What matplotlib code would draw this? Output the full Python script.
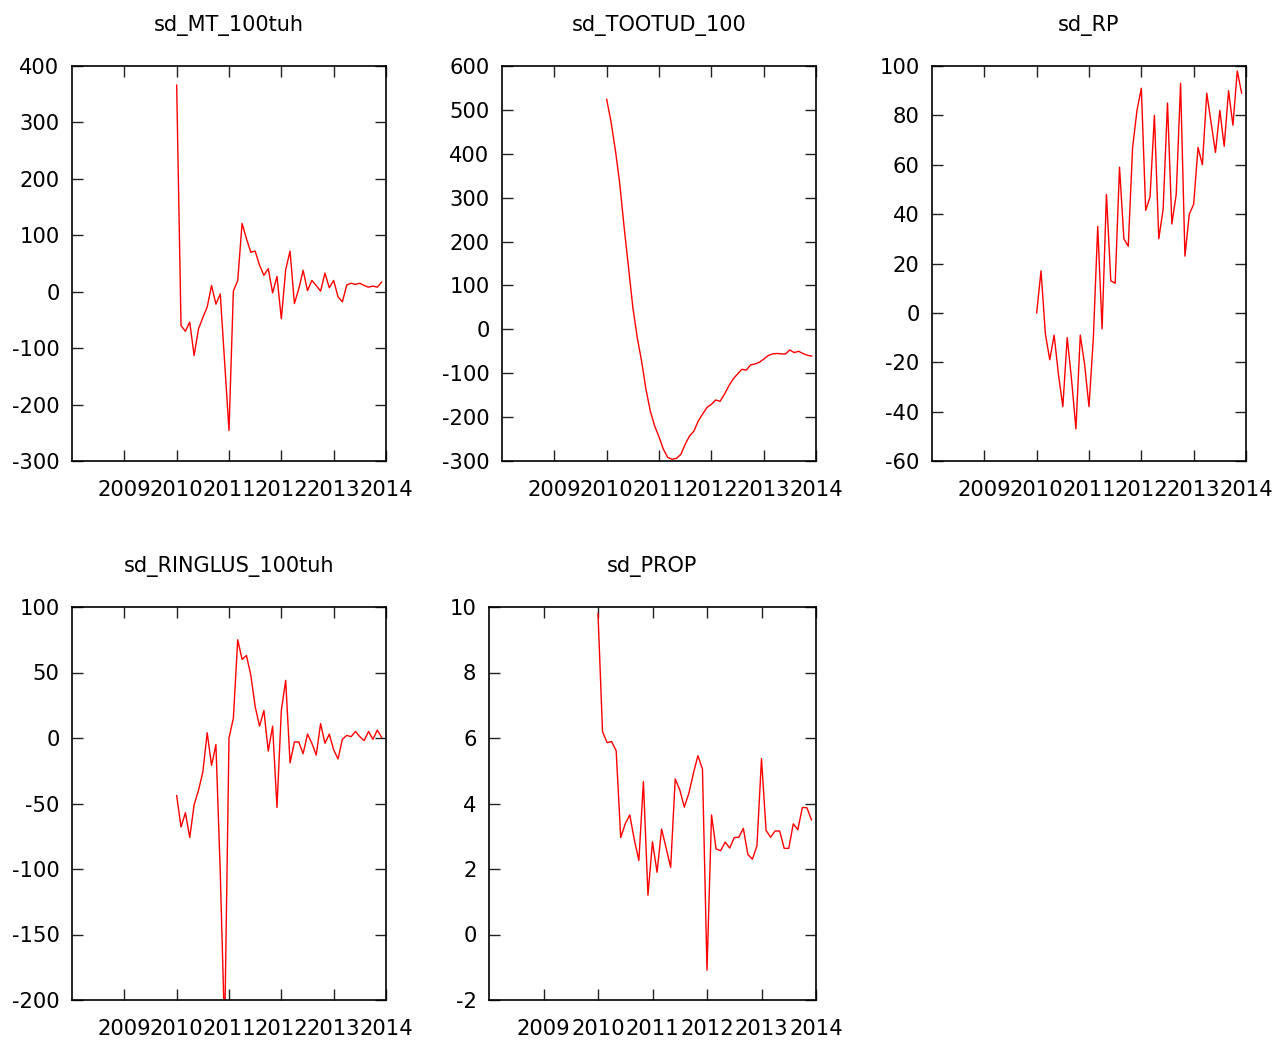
import numpy as np
from matplotlib import pyplot as plt

plt.rcParams['font.family'] = 'DejaVu Sans'
plt.rcParams['axes.unicode_minus'] = False

# monthly values, jan 2010 .. dec 2013
months = 2010 + np.arange(48) / 12.0

sd_MT_100tuh = [366, -60, -70, -54, -113, -66, -46, -27, 11, -22, -4, -125,
                -246, 1, 20, 121, 94, 70, 72, 47, 29, 41, -2, 27,
                -48, 39, 72, -21, 5, 38, 2, 20, 11, 1, 33, 7,
                20, -9, -18, 12, 15, 13, 15, 11, 8, 10, 8, 17]

sd_TOOTUD_100 = [524, 473, 408, 332, 233, 142, 50, -18, -72, -136, -186, -220,
                 -245, -273, -292, -296, -294, -285, -262, -243, -232, -209, -193, -178,
                 -171, -161, -164, -148, -129, -113, -102, -91, -93, -81, -79, -75,
                 -68, -60, -56, -55, -56, -56, -47, -53, -50, -55, -59, -61]

sd_RP = [0, 17, -8.5, -19, -9, -25, -38, -10, -27, -47, -9, -21,
         -38, -10, 35, -6.5, 48, 13, 12, 59, 30, 27, 67, 82,
         91, 41.5, 47, 80, 30, 42, 85, 36, 48, 93, 23, 40,
         44, 67, 60, 89, 77, 65, 82, 67.5, 90, 76, 98, 89]

sd_RINGLUS_100tuh = [-44, -68, -57, -76, -51, -40, -26, 4, -21, -5, -103, -225,
                     0, 15, 75, 60, 63, 48, 24, 9, 21, -10, 9, -53,
                     21, 44, -19, -3, -3, -12, 3, -4, -13, 11, -4, 3,
                     -9, -16, -1, 2, 1, 5, 1, -2, 5, -1, 6, 0.5]

sd_PROP = [9.8, 6.19, 5.86, 5.89, 5.61, 2.96, 3.38, 3.65, 2.89, 2.26, 4.67, 1.2,
           2.83, 1.9, 3.22, 2.64, 2.05, 4.75, 4.42, 3.89, 4.31, 4.92, 5.46, 5.05,
           -1.09, 3.65, 2.61, 2.56, 2.82, 2.64, 2.96, 2.97, 3.24, 2.44, 2.3, 2.71,
           5.37, 3.18, 2.97, 3.16, 3.16, 2.63, 2.63, 3.38, 3.2, 3.88, 3.87, 3.5]

years = [2009, 2010, 2011, 2012, 2013, 2014]

W, H = 1278, 1043
fig = plt.figure(figsize=(W / 100, H / 100), dpi=100)


def make_ax(left, top, right, bottom):
    return fig.add_axes([left / W, (H - bottom) / H, (right - left) / W, (bottom - top) / H])


panels = [
    (make_ax(72, 66, 386, 461), 'sd_MT_100tuh', sd_MT_100tuh, (-300, 400), 100),
    (make_ax(502, 66, 816, 461), 'sd_TOOTUD_100', sd_TOOTUD_100, (-300, 600), 100),
    (make_ax(932, 66, 1246, 461), 'sd_RP', sd_RP, (-60, 100), 20),
    (make_ax(72, 607, 386, 1000), 'sd_RINGLUS_100tuh', sd_RINGLUS_100tuh, (-200, 100), 50),
    (make_ax(489, 607, 816, 1000), 'sd_PROP', sd_PROP, (-2, 10), 2),
]

for ax, title, vals, ylim, step in panels:
    ax.plot(months, vals, color='red', linewidth=1)
    ax.set_xlim(2008, 2014)
    ax.set_ylim(ylim)
    ax.set_xticks(years)
    ax.set_xticklabels([str(y) for y in years])
    ax.set_yticks(np.arange(ylim[0], ylim[1] + step / 2, step))
    ax.tick_params(direction='in', top=True, right=True, length=8, width=1,
                   color='#222222', labelsize=15.2)
    ax.tick_params(axis='x', pad=14)
    ax.tick_params(axis='y', pad=9)
    for s in ax.spines.values():
        s.set_linewidth(1.2)
        s.set_color('black')
    ax.set_title(title, fontsize=15, pad=25)

fig.savefig('out.png', dpi=100)
